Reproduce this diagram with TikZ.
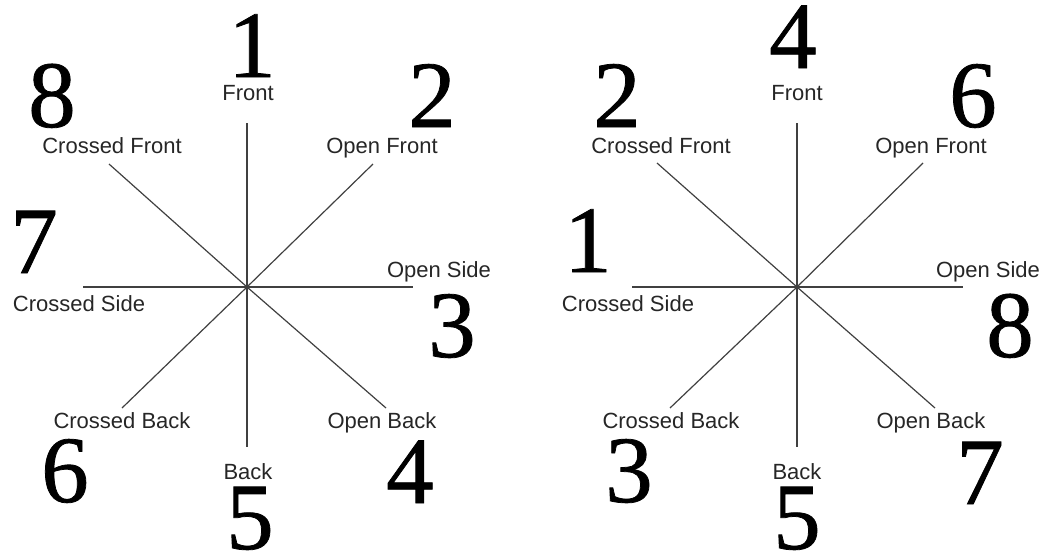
\documentclass[tikz,border=0pt]{standalone}
\usepackage{fontspec}
\setmainfont{Liberation Sans}
\newfontfamily\numfont[FakeBold=0.8]{Liberation Serif}
\begin{document}
\begin{tikzpicture}[x=1pt,y=-1pt,
  num/.style={font=\numfont\fontsize{95}{95}\selectfont, inner sep=0pt, anchor=base},
  lab/.style={font=\fontsize{22}{22}\selectfont, inner sep=0pt, anchor=base, text=black!85},
  spoke/.style={draw=black!75, line width=1.2pt}]
\useasboundingbox (0,0) rectangle (1045,560);
% ---------- left diagram ----------
\coordinate (Lc) at (247,287);
\coordinate (LeN) at (247,123);
\coordinate (LeNW) at (109,164);
\coordinate (LeNE) at (373,164);
\coordinate (LeW) at (83,287);
\coordinate (LeE) at (413,287);
\coordinate (LeSW) at (122,408);
\coordinate (LeSE) at (386,408);
\coordinate (LeS) at (247,447);
\foreach \e in {LeN,LeNW,LeNE,LeW,LeE,LeSW,LeSE,LeS}
  \draw[spoke] (Lc) -- (\e);
\node[num] (Ln1) at (252,77) {1};
\node[num] (Ln8) at (52,127) {8};
\node[num] (Ln2) at (432,127) {2};
\node[num] (Ln7) at (34,273) {7};
\node[num] (Ln3) at (452,357) {3};
\node[num] (Ln6) at (65,502) {6};
\node[num] (Ln4) at (410,503) {4};
\node[num] (Ln5) at (250,549) {5};
\node[lab] (LlF) at (248,100) {Front};
\node[lab] (LlCF) at (112,153) {Crossed Front};
\node[lab] (LlOF) at (382,153) {Open Front};
\node[lab] (LlOS) at (439,277) {Open Side};
\node[lab] (LlCS) at (79,311) {Crossed Side};
\node[lab] (LlCB) at (122,428) {Crossed Back};
\node[lab] (LlOB) at (382,428) {Open Back};
\node[lab] (LlB) at (248,479) {Back};
% ---------- right diagram ----------
\coordinate (Rc) at (797,287);
\coordinate (ReN) at (797,123);
\coordinate (ReNW) at (657,163);
\coordinate (ReNE) at (923,163);
\coordinate (ReW) at (632,287);
\coordinate (ReE) at (963,287);
\coordinate (ReSW) at (670,408);
\coordinate (ReSE) at (935,408);
\coordinate (ReS) at (797,447);
\foreach \e in {ReN,ReNW,ReNE,ReW,ReE,ReSW,ReSE,ReS}
  \draw[spoke] (Rc) -- (\e);
\node[num] (Rn4) at (793,68) {4};
\node[num] (Rn2) at (617,127) {2};
\node[num] (Rn6) at (973,127) {6};
\node[num] (Rn1) at (588,272) {1};
\node[num] (Rn8) at (1010,357) {8};
\node[num] (Rn3) at (629,502) {3};
\node[num] (Rn7) at (980,504) {7};
\node[num] (Rn5) at (797,549) {5};
\node[lab] (RlF) at (797,100) {Front};
\node[lab] (RlCF) at (661,153) {Crossed Front};
\node[lab] (RlOF) at (931,153) {Open Front};
\node[lab] (RlOS) at (988,277) {Open Side};
\node[lab] (RlCS) at (628,311) {Crossed Side};
\node[lab] (RlCB) at (671,428) {Crossed Back};
\node[lab] (RlOB) at (931,428) {Open Back};
\node[lab] (RlB) at (797,479) {Back};
\end{tikzpicture}
\end{document}
